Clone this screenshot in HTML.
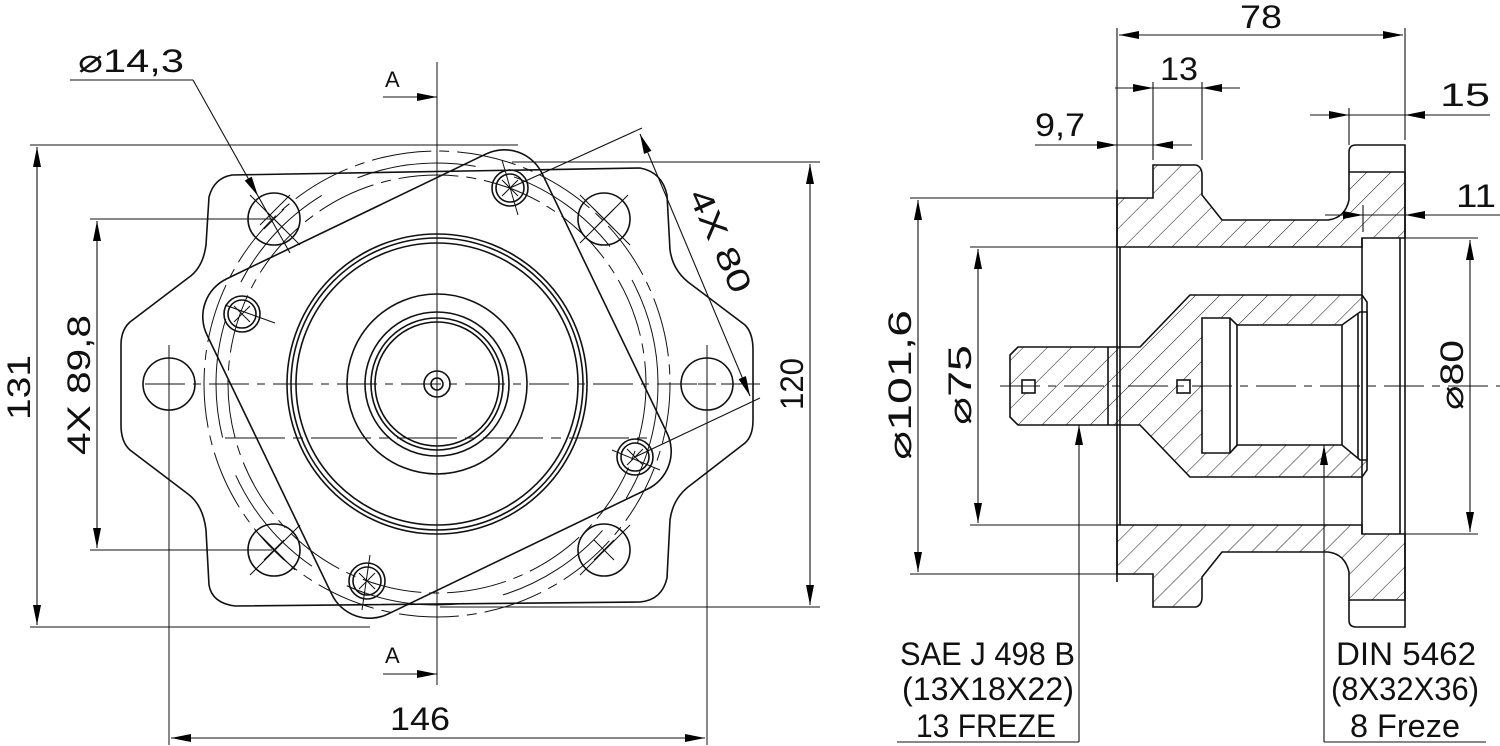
<!DOCTYPE html>
<html><head><meta charset="utf-8"><style>
html,body{margin:0;padding:0;background:#fff;}
svg{display:block;}
text{font-family:"Liberation Sans","DejaVu Sans",sans-serif;fill:#111;}
</style></head><body>
<svg width="1500" height="746" viewBox="0 0 1500 746" xmlns="http://www.w3.org/2000/svg">
<defs>
<marker id="ar" viewBox="0 0 20 8" refX="20" refY="4" markerWidth="20" markerHeight="8" markerUnits="userSpaceOnUse" orient="auto-start-reverse">
<path d="M0,0 L20,4 L0,8 Z" fill="#000"/></marker>
<pattern id="hatch" patternUnits="userSpaceOnUse" width="17" height="17" patternTransform="rotate(45)">
<line x1="0" y1="0" x2="0" y2="17" stroke="#222" stroke-width="1.1"/></pattern>
</defs>
<g fill="none" stroke="#111" stroke-width="1.6">
<!-- ===== LEFT VIEW ===== -->
<path d="M232,175 L640,168 Q662,172 667,195 L670,250 Q673,272 692,285 L745,325 Q753,333 753,350 L753,420 Q753,436 745,443 L692,484 Q673,497 670,520 L667,578 Q662,600 640,602 L235,606 Q212,603 209,585 L206,530 Q203,505 188,494 L130,450 Q121,442 121,425 L121,345 Q121,330 130,322 L188,278 Q203,268 206,245 L209,197 Q214,178 232,175 Z"/>
<rect x="-186" y="-186" width="372" height="372" rx="42" transform="translate(437,384) rotate(-25.7)"/>
<circle cx="437" cy="384" r="150"/><circle cx="437" cy="384" r="146"/><circle cx="437" cy="384" r="141"/>
<circle cx="437" cy="384" r="90"/><circle cx="437" cy="384" r="72"/><circle cx="437" cy="384" r="66"/><circle cx="437" cy="384" r="62"/>
<circle cx="437" cy="384" r="13"/><circle cx="437" cy="384" r="6"/>
<circle cx="437" cy="384" r="209" stroke-width="1" stroke-dasharray="60,8,10,8"/>
<circle cx="437" cy="384" r="233" stroke-width="1" stroke-dasharray="60,8,10,8"/>
<circle cx="437" cy="384" r="221" stroke-width="1" stroke-dasharray="120,40"/>
<circle cx="169" cy="384" r="26"/><circle cx="707" cy="384" r="26"/>
<circle cx="274" cy="219" r="26"/><circle cx="604" cy="219" r="26"/>
<circle cx="274" cy="550" r="26"/><circle cx="604" cy="550" r="26"/>
<g><circle cx="510" cy="188" r="18"/><circle cx="510" cy="188" r="14"/>
<circle cx="242" cy="314" r="18"/><circle cx="242" cy="314" r="14"/>
<circle cx="635" cy="457" r="18"/><circle cx="635" cy="457" r="14"/>
<circle cx="367" cy="581" r="18"/><circle cx="367" cy="581" r="14"/></g>
<g stroke-width="1">
<path d="M160,384h18M169,375v18M698,384h18M707,375v18"/>
<path d="M264,209l20,20M284,209l-20,20M594,209l20,20M614,209l-20,20M264,540l20,20M284,540l-20,20M594,540l20,20M614,540l-20,20"/>
<path d="M502,180l16,16M518,180l-16,16M234,306l16,16M250,306l-16,16M627,449l16,16M643,449l-16,16M359,573l16,16M375,573l-16,16"/>
<path d="M502,160l16,55M225,305l50,18M660,470l-48,-20M370,555l-8,55"/>
<path d="M250,195l50,50M290,195l-30,30M580,195l50,50M628,195l-48,48M250,575l50,-50M255,530l40,40M580,575l50,-50"/>
</g>
<line x1="437" y1="62" x2="437" y2="685" stroke-width="1"/>
<line x1="145" y1="384" x2="760" y2="384" stroke-width="1" stroke-dasharray="40,8,8,8"/>
<line x1="225" y1="438" x2="655" y2="438" stroke-width="1" stroke-dasharray="60,8,10,8"/>
<line x1="169" y1="345" x2="169" y2="745" stroke-width="1"/>
<line x1="707" y1="345" x2="707" y2="745" stroke-width="1"/>
<g stroke-width="1.1">
<line x1="30" y1="145" x2="518" y2="145"/><line x1="30" y1="627" x2="370" y2="627"/>
<line x1="37" y1="147" x2="37" y2="625" marker-start="url(#ar)" marker-end="url(#ar)"/>
<line x1="90" y1="219" x2="272" y2="219"/><line x1="90" y1="550" x2="272" y2="550"/>
<line x1="97" y1="221" x2="97" y2="548" marker-start="url(#ar)" marker-end="url(#ar)"/>
<line x1="512" y1="162" x2="820" y2="162"/><line x1="440" y1="607" x2="820" y2="607"/>
<line x1="810" y1="164" x2="810" y2="605" marker-start="url(#ar)" marker-end="url(#ar)"/>
<line x1="510" y1="188" x2="642" y2="128"/><line x1="635" y1="457" x2="760" y2="398"/>
<line x1="640" y1="134" x2="750" y2="396" marker-start="url(#ar)" marker-end="url(#ar)"/>
<line x1="171" y1="738" x2="705" y2="738" marker-start="url(#ar)" marker-end="url(#ar)"/>
<polyline points="70,80 193,80"/>
<line x1="193" y1="80" x2="258" y2="196" marker-end="url(#ar)"/>
<line x1="258" y1="196" x2="290" y2="253"/>
<line x1="383" y1="97" x2="437" y2="97" marker-end="url(#ar)"/>
<line x1="383" y1="674" x2="437" y2="674" marker-end="url(#ar)"/>
</g>

<!-- ===== RIGHT VIEW ===== -->
<path fill="url(#hatch)" d="M1117,198 L1153,198 L1153,165 L1196,165 Q1202,167 1202,175 L1202,195 L1222,220 L1328,220 Q1345,218 1349,200 L1349,172 L1405,172 L1405,238 L1362,238 L1362,247 L1117,247 Z"/>
<path fill="url(#hatch)" d="M1117,574 L1153,574 L1153,607 L1196,607 Q1202,605 1202,597 L1202,577 L1222,552 L1328,552 Q1345,554 1349,572 L1349,600 L1405,600 L1405,534 L1362,534 L1362,525 L1117,525 Z"/>
<path fill="url(#hatch)" d="M1010,355 L1018,347 L1140,347 L1190,295 L1362,295 L1367,302 L1367,470 L1362,477 L1190,477 L1140,425 L1018,425 L1010,417 Z"/>
<path fill="#fff" d="M1202,318 L1230,318 L1237,325 L1342,325 L1360,312 L1367,312 L1367,460 L1360,460 L1342,445 L1237,445 L1230,453 L1202,453 Z"/>
<line x1="1230" y1="318" x2="1230" y2="453"/><line x1="1237" y1="325" x2="1237" y2="445"/>
<line x1="1342" y1="325" x2="1342" y2="445"/><line x1="1358" y1="314" x2="1358" y2="458"/>
<line x1="1108" y1="347" x2="1108" y2="425"/>
<line x1="1117" y1="190" x2="1117" y2="582"/><line x1="1120" y1="247" x2="1120" y2="525"/>
<path d="M1349,172 L1349,152 Q1349,145 1356,145 L1405,145 L1405,627 L1356,627 Q1349,627 1349,620 L1349,600"/>
<line x1="1362" y1="238" x2="1362" y2="534"/><line x1="1400" y1="238" x2="1400" y2="534"/>
<line x1="1405" y1="238" x2="1478" y2="238" stroke-width="1"/><line x1="1405" y1="534" x2="1478" y2="534" stroke-width="1"/>
<rect x="1022" y="380" width="13" height="13" fill="#fff"/><rect x="1177" y="380" width="13" height="13" fill="#fff"/>
<line x1="1000" y1="386" x2="1500" y2="386" stroke-width="1" stroke-dasharray="40,8,8,8"/>
<g stroke-width="1.1">
<line x1="1117" y1="28" x2="1117" y2="190"/><line x1="1405" y1="28" x2="1405" y2="140"/>
<line x1="1119" y1="35" x2="1403" y2="35" marker-start="url(#ar)" marker-end="url(#ar)"/>
<line x1="1153" y1="82" x2="1153" y2="160"/><line x1="1202" y1="82" x2="1202" y2="160"/>
<line x1="1115" y1="88" x2="1153" y2="88" marker-end="url(#ar)"/><line x1="1153" y1="88" x2="1202" y2="88"/>
<line x1="1240" y1="88" x2="1202" y2="88" marker-end="url(#ar)"/>
<line x1="1035" y1="145" x2="1117" y2="145" marker-end="url(#ar)"/><line x1="1117" y1="145" x2="1153" y2="145"/>
<line x1="1192" y1="145" x2="1153" y2="145" marker-end="url(#ar)"/>
<line x1="1349" y1="108" x2="1349" y2="145"/>
<line x1="1310" y1="115" x2="1349" y2="115" marker-end="url(#ar)"/><line x1="1349" y1="115" x2="1405" y2="115"/>
<line x1="1490" y1="115" x2="1405" y2="115" marker-end="url(#ar)"/>
<line x1="1363" y1="205" x2="1363" y2="232"/>
<line x1="1325" y1="215" x2="1363" y2="215" marker-end="url(#ar)"/><line x1="1363" y1="215" x2="1405" y2="215"/>
<line x1="1500" y1="215" x2="1405" y2="215" marker-end="url(#ar)"/>
<line x1="910" y1="198" x2="1117" y2="198"/><line x1="910" y1="574" x2="1117" y2="574"/>
<line x1="918" y1="200" x2="918" y2="572" marker-start="url(#ar)" marker-end="url(#ar)"/>
<line x1="970" y1="247" x2="1117" y2="247"/><line x1="970" y1="525" x2="1117" y2="525"/>
<line x1="978" y1="249" x2="978" y2="523" marker-start="url(#ar)" marker-end="url(#ar)"/>
<line x1="1470" y1="240" x2="1470" y2="532" marker-start="url(#ar)" marker-end="url(#ar)"/>
<line x1="1079" y1="742" x2="1079" y2="425" marker-end="url(#ar)"/>
<line x1="897" y1="742" x2="1079" y2="742"/>
<line x1="1324" y1="742" x2="1324" y2="445" marker-end="url(#ar)"/>
<line x1="1324" y1="742" x2="1486" y2="742"/>
</g>
</g>
<g font-size="32">
<text x="78" y="72" textLength="106" lengthAdjust="spacingAndGlyphs">⌀14,3</text>
<text x="385" y="87" font-size="22">A</text>
<text x="385" y="663" font-size="22">A</text>
<text x="390" y="730" textLength="60" lengthAdjust="spacingAndGlyphs">146</text>
<text transform="translate(30,420) rotate(-90)" textLength="65" lengthAdjust="spacingAndGlyphs">131</text>
<text transform="translate(90,455) rotate(-90)" textLength="140" lengthAdjust="spacingAndGlyphs">4X 89,8</text>
<text transform="translate(803,410) rotate(-90)" textLength="52" lengthAdjust="spacingAndGlyphs">120</text>
<text transform="translate(688,195) rotate(66)" textLength="110" lengthAdjust="spacingAndGlyphs">4X 80</text>
<text x="1240" y="28" textLength="42" lengthAdjust="spacingAndGlyphs">78</text>
<text x="1160" y="80" textLength="38" lengthAdjust="spacingAndGlyphs">13</text>
<text x="1035" y="136" textLength="50" lengthAdjust="spacingAndGlyphs">9,7</text>
<text x="1440" y="106" textLength="50" lengthAdjust="spacingAndGlyphs">15</text>
<text x="1456" y="207" textLength="40" lengthAdjust="spacingAndGlyphs">11</text>
<text transform="translate(911,460) rotate(-90)" textLength="150" lengthAdjust="spacingAndGlyphs">⌀101,6</text>
<text transform="translate(971,425) rotate(-90)" textLength="80" lengthAdjust="spacingAndGlyphs">⌀75</text>
<text transform="translate(1463,410) rotate(-90)" textLength="70" lengthAdjust="spacingAndGlyphs">⌀80</text>
<text x="900" y="665" textLength="175" lengthAdjust="spacingAndGlyphs">SAE J 498 B</text>
<text x="902" y="700" textLength="172" lengthAdjust="spacingAndGlyphs">(13X18X22)</text>
<text x="916" y="737" textLength="140" lengthAdjust="spacingAndGlyphs">13 FREZE</text>
<text x="1336" y="665" textLength="140" lengthAdjust="spacingAndGlyphs">DIN 5462</text>
<text x="1331" y="700" textLength="148" lengthAdjust="spacingAndGlyphs">(8X32X36)</text>
<text x="1350" y="737" textLength="110" lengthAdjust="spacingAndGlyphs">8 Freze</text>
</g>
</svg>
</body></html>
